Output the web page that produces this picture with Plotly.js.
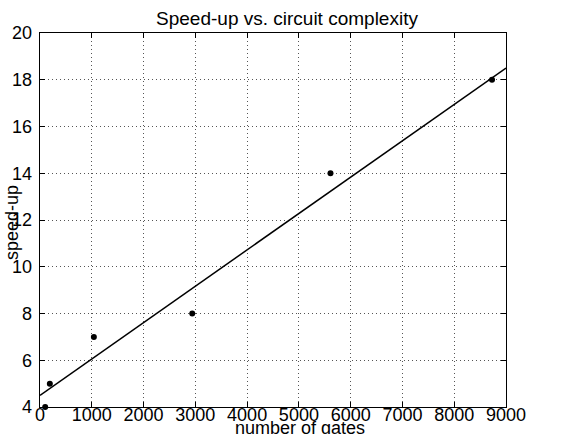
<!DOCTYPE html>
<html>
<head>
<script src="https://cdn.plot.ly/plotly-3.0.1.min.js"></script>
<style>html,body{margin:0;padding:0;background:#fff;}#chart{width:585px;height:434px;}</style>
</head>
<body>
<div id="chart"></div>
<script>
const gates = [100, 190, 1040, 2940, 5610, 8730];
const speedup = [4, 5, 7, 8, 14, 18];
const fitX = [0, 9000];
const fitY = [4.5, 18.5];
const xTicks = [0,1000,2000,3000,4000,5000,6000,7000,8000,9000];
const yTicks = [4,6,8,10,12,14,16,18,20];

const font = {family: 'Liberation Sans, Arial, Helvetica, sans-serif', color: '#000'};
const data = [
  {x: fitX, y: fitY, mode: 'lines', line: {color: '#000', width: 1.5}, showlegend: false, hoverinfo: 'skip'},
  {x: gates, y: speedup, mode: 'markers', marker: {color: '#000', size: 6, symbol: 'circle'}, showlegend: false, cliponaxis: false}
];
const axisCommon = {
  showgrid: true, gridcolor: '#555', griddash: '1px,3px', gridwidth: 1,
  showline: true, linecolor: '#000', linewidth: 1.3, mirror: 'ticks',
  ticks: 'inside', ticklen: 5, tickcolor: '#000', zeroline: false,
  tickfont: Object.assign({size: 18}, font)
};
const layout = {
  width: 585, height: 434,
  margin: {l: 40, r: 79, t: 33, b: 27},
  paper_bgcolor: '#fff', plot_bgcolor: '#fff',
  font: font,
  title: {text: 'Speed-up vs. circuit complexity', font: Object.assign({size: 19}, font), x: 287/585, xanchor: 'center', y: 1 - 18/434, yanchor: 'middle'},
  xaxis: Object.assign({}, axisCommon, {range: [0, 9000], tickvals: xTicks, ticktext: xTicks.map(String), ticklabelstandoff: -9}),
  yaxis: Object.assign({}, axisCommon, {range: [4, 20], tickvals: yTicks, ticktext: yTicks.map(String), ticklabelstandoff: 3}),
  annotations: [
    {text: 'number of gates', xref: 'paper', yref: 'paper', x: (300-40)/466, y: -(428-407)/374, xanchor: 'center', yanchor: 'middle', showarrow: false, font: Object.assign({size: 18}, font)},
    {text: 'speed-up', xref: 'paper', yref: 'paper', x: -(40-12)/466, y: 1-(223-33)/374, xanchor: 'center', yanchor: 'middle', textangle: -90, showarrow: false, font: Object.assign({size: 18}, font)}
  ]
};
Plotly.newPlot('chart', data, layout, {staticPlot: true, displayModeBar: false});
</script>
</body>
</html>
